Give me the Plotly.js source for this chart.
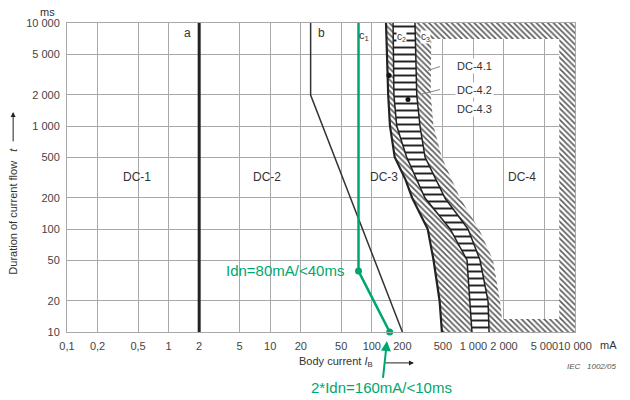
<!DOCTYPE html>
<html>
<head>
<meta charset="utf-8">
<script src="https://cdn.plot.ly/plotly-3.0.1.min.js"></script>
<style>html,body{margin:0;padding:0;background:#fff;}#chart{width:630px;height:400px;}</style>
</head>
<body>
<div id="chart"></div>
<script>
// ---- tick labels ----
const xTickVals = [0.1,0.2,0.5,1,2,5,10,20,50,100,200,500,1000,2000,5000,10000];
const xTickText = ["0,1","0,2","0,5","1","2","5","10","20","50","100","200","500","1 000","2 000","5 000","10 000"];
const yTickVals = [10,20,50,100,200,500,1000,2000,5000,10000];
const yTickText = ["10","20","50","100","200","500","1 000","2 000","5 000","10 000"];

// ---- curve a ----
const curveA_I = [2, 2];
const curveA_T = [10, 10000];
// ---- curve b ----
const curveB_I = [25, 25, 200];
const curveB_T = [10000, 2000, 10];
// ---- curve c1 ----
const curveC1_I = [138, 140, 145, 151, 168, 215, 250, 355, 405, 465, 490];
const curveC1_T = [10000, 5000, 2000, 1000, 500, 300, 200, 100, 50, 20, 10];
// ---- c2 band (ladder) edges ----
const band_T      = [10000, 2000, 1000, 500, 200, 100, 50, 20, 10];
const ladderL_I   = [162, 165, 176, 220, 334, 590, 865, 926, 968];
const ladderR_I   = [266, 277, 298, 334, 525, 885, 1161, 1393, 1426];
// ---- c3 curve (left edge of DC-4 white zone) ----
const curveC3_T = [7000, 2000, 1000, 500, 200, 100, 50, 20, 13.4];
const curveC3_I = [385, 380, 405, 488, 738, 1135, 1559, 1828, 1911];
// ---- DC-4 inner zone limits ----
const dc4Right_I = 7000;
const dc4Top_T = 7000;
const dc4Bottom_T = 13.4;
// ---- axis limits ----
const axisMax_I = 10000, axisMin_T = 10, axisMax_T = 10000;
// ---- marker dots ----
const dots_I = [147.6, 227];
const dots_T = [3090, 1807];
// ---- leader lines ----
const lead1_I = [469, 357], lead1_T = [3784, 3459];
const lead2_I = [469, 298], lead2_T = [2260, 2019];
// ---- RCD (green) ----
const rcd_I = [74, 74, 150];
const rcd_T = [10000, 39, 10];

const green = '#00a66e';
const hatch = {shape:'\\', fgcolor:'#5a5a5a', bgcolor:'white', size:4, solidity:0.4};

// hatch 1 between c1 and ladder-left
const h1x = curveC1_I.slice().concat(ladderL_I.slice().reverse());
const h1y = curveC1_T.slice().concat(band_T.slice().reverse());
// ladder polygon
const lx = ladderL_I.slice().concat(ladderR_I.slice().reverse());
const ly = band_T.slice().concat(band_T.slice().reverse());
// hatch 2: right of ladder to right edge, with a keyhole cut for the DC-4 zone
const rUp_I = ladderR_I.slice().reverse(), rUp_T = band_T.slice().reverse(); // 10 -> 10000
const c3Bottom = curveC3_I[curveC3_I.length-1];
let h2x = rUp_I.concat([axisMax_I, axisMax_I, c3Bottom, c3Bottom, dc4Right_I, dc4Right_I]);
let h2y = rUp_T.concat([axisMax_T, axisMin_T, axisMin_T, dc4Bottom_T, dc4Bottom_T, dc4Top_T]);
h2x = h2x.concat(curveC3_I, [c3Bottom, rUp_I[0]]);
h2y = h2y.concat(curveC3_T, [axisMin_T, rUp_T[0]]);

const traces = [
  {x:h2x, y:h2y, mode:'lines', fill:'toself', fillcolor:'rgba(0,0,0,0)', fillpattern:hatch, line:{width:0, simplify:false}, hoverinfo:'skip'},
  {x:h1x, y:h1y, mode:'lines', fill:'toself', fillcolor:'rgba(0,0,0,0)', fillpattern:hatch, line:{width:0, simplify:false}, hoverinfo:'skip'},
  {x:lx, y:ly, mode:'lines', fill:'toself', fillcolor:'white', fillpattern:{shape:'-', fgcolor:'#222', bgcolor:'white', size:7, solidity:0.28}, line:{width:0, simplify:false}, hoverinfo:'skip'},
  {x:ladderL_I, y:band_T, mode:'lines', line:{color:'#222', width:1.5}},
  {x:ladderR_I, y:band_T, mode:'lines', line:{color:'#222', width:1.5}},
  {x:curveC1_I, y:curveC1_T, mode:'lines', line:{color:'#222', width:2.2}},
  {x:curveA_I, y:curveA_T, mode:'lines', line:{color:'#222', width:3}},
  {x:curveB_I, y:curveB_T, mode:'lines', line:{color:'#333', width:1.5}},
  {x:lead1_I, y:lead1_T, mode:'lines', line:{color:'#888', width:1}},
  {x:lead2_I, y:lead2_T, mode:'lines', line:{color:'#888', width:1}},
  {x:dots_I, y:dots_T, mode:'markers', marker:{color:'#111', size:5}},
  {x:rcd_I, y:rcd_T, mode:'lines', line:{color:green, width:2.5}},
  {x:rcd_I.slice(1), y:rcd_T.slice(1), mode:'markers', marker:{color:green, size:7}, cliponaxis:false}
];

const F = 'Liberation Sans, Arial, sans-serif';
const L = Math.log10;
function lab(text, xv, yv, size, extra){
  return Object.assign({text:text, x:L(xv), y:L(yv), xref:'x', yref:'y', showarrow:false,
    xanchor:'center', yanchor:'middle',
    font:{family:F, size:size||12, color:'#333'}}, extra||{});
}
function pap(text, x, y, size, extra){
  return Object.assign({text:text, x:x, y:y, xref:'paper', yref:'paper', showarrow:false,
    xanchor:'center', yanchor:'middle', font:{family:F, size:size, color:'#333'}}, extra||{});
}
const annotations = [
  lab('DC-1', 0.49, 322),
  lab('DC-2', 9.3, 322),
  lab('DC-3', 132, 322),
  lab('DC-4', 3000, 322),
  lab('a', 1.52, 7930),
  lab('b', 32, 7930),
  lab('c<sub>1</sub>', 84, 7400, 11),
  lab('c<sub>2</sub>', 198, 7250, 10, {bgcolor:'white', borderpad:0}),
  lab('c<sub>3</sub>', 334, 7250, 10, {bgcolor:'white', borderpad:0}),
  lab('DC-4.1', 1014, 3784, 11, {bgcolor:'white', borderpad:1}),
  lab('DC-4.2', 1014, 2260, 11, {bgcolor:'white', borderpad:1}),
  lab('DC-4.3', 1014, 1476, 11, {bgcolor:'white', borderpad:1}),
  lab('Idn=80mA/<40ms', 14, 39.2, 15, {font:{family:F, size:15, color:green}}),
  {text:'2*Idn=160mA/<10ms', x:L(141), y:-0.029, xref:'x', yref:'paper', showarrow:true,
   ax:-5, ay:47, arrowcolor:green, arrowwidth:2, arrowhead:2, arrowsize:1, standoff:0,
   font:{family:F, size:15, color:green}},
  pap('ms', -0.039, 1.036, 11),
  pap('mA', 1.065, -0.042, 11),
  pap('<i>IEC   1002/05</i>', 1.033, -0.113, 8, {font:{family:F, size:8, color:'#555'}}),
  pap('Body current <i>I</i><sub>B</sub>', 0.53, -0.097, 11),
  {text:'', x:0.683, y:-0.1, xref:'paper', yref:'paper', showarrow:true, ax:-30, ay:0, arrowhead:2, arrowsize:1, arrowwidth:1, arrowcolor:'#222'},
  pap('Duration of current flow   <i>t</i>', -0.106, 0.39, 11, {textangle:-90}),
  {text:'', x:-0.106, y:0.712, xref:'paper', yref:'paper', showarrow:true, ax:0, ay:31, arrowhead:2, arrowsize:1, arrowwidth:1, arrowcolor:'#222'}
];

const axisCommon = {type:'log', showgrid:true, gridcolor:'#a8a8a8', gridwidth:1, showline:true, linecolor:'#a8a8a8', linewidth:1,
  mirror:true, ticks:'', zeroline:false, tickmode:'array', tickangle:0, tickfont:{family:F, size:11, color:'#444'}};

const layout = {
  width:630, height:400, margin:{l:67, r:55, t:23, b:68},
  paper_bgcolor:'white', plot_bgcolor:'white', showlegend:false,
  xaxis:Object.assign({}, axisCommon, {range:[-1,4], tickvals:xTickVals, ticktext:xTickText, ticklabelstandoff:4}),
  yaxis:Object.assign({}, axisCommon, {range:[1,4], tickvals:yTickVals, ticktext:yTickText, ticklabelstandoff:4}),
  annotations:annotations
};

Plotly.newPlot('chart', traces, layout, {staticPlot:true, displayModeBar:false});
</script>
</body>
</html>
